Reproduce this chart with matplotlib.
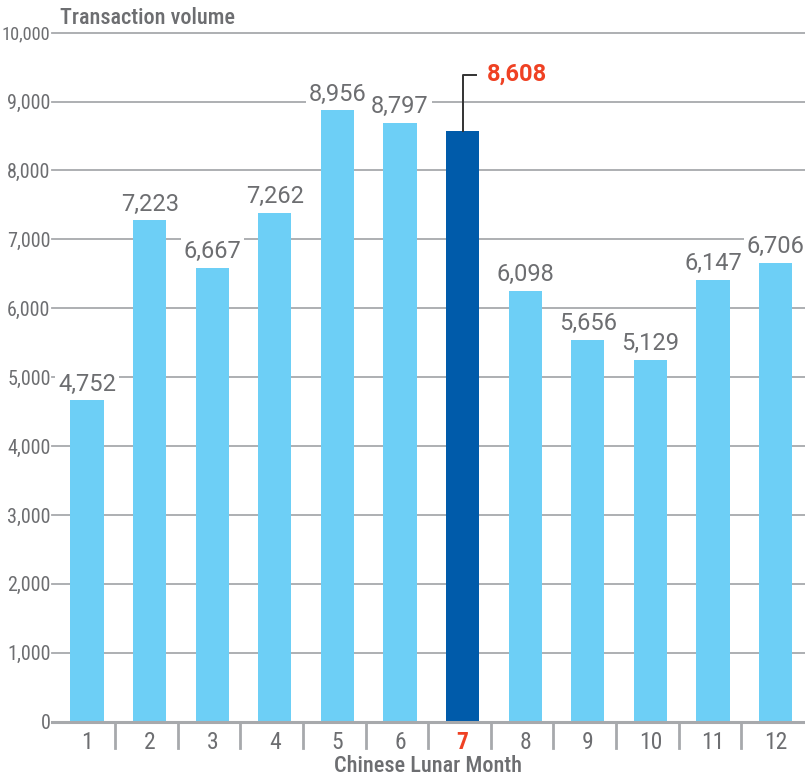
import matplotlib
matplotlib.use("Agg")
import matplotlib.pyplot as plt
from matplotlib.lines import Line2D
from matplotlib.transforms import IdentityTransform

# data
months = ["1", "2", "3", "4", "5", "6", "7", "8", "9", "10", "11", "12"]
bar_heights = [4669, 7282, 6589, 7388, 8878, 8694, 8578, 6256, 5544, 5254, 6415, 6662]
value_labels = [4752, 7223, 6667, 7262, 8956, 8797, 8608, 6098, 5656, 5129, 6147, 6706]
highlight = 6  # index of month 7
y_ticks = [0, 1000, 2000, 3000, 4000, 5000, 6000, 7000, 8000, 9000, 10000]

light_blue = "#6dcff6"
dark_blue = "#005baa"
red = "#ef4123"
gray_txt = "#6d6e71"
grid_col = "#a7a9ac"
narrow = ["Roboto Condensed", "DejaVu Sans"]
num_font = ["Roboto", "DejaVu Sans"]

fig = plt.figure(figsize=(8.05, 7.77), dpi=100)
ax = fig.add_axes([52 / 805, 55.3 / 777, 1 - 52 / 805, 689 / 777])

x = list(range(len(months)))
colors = [dark_blue if i == highlight else light_blue for i in x]
ax.bar(x, bar_heights, width=0.53, color=colors, zorder=2)

ax.set_xlim(-0.56, 11.47)
ax.set_ylim(0, 10000)

# gridlines
for t in y_ticks[1:]:
    ax.axhline(t, color=grid_col, lw=1.3, zorder=0, clip_on=False)
ax.axhline(0, color=grid_col, lw=2.2, zorder=3, clip_on=False)

for s in ax.spines.values():
    s.set_visible(False)

ax.set_yticks(y_ticks)
ax.set_yticklabels([f"{t:,}" for t in y_ticks], family=narrow, fontsize=14.5, color=gray_txt)
ax.tick_params(axis="y", length=0, pad=1)
ax.get_yticklabels()[-1].set_fontsize(13.2)  # widest label, keep it inside

ax.set_xticks(x)
ax.set_xticklabels(months, family=narrow, fontsize=17, color=gray_txt)
ax.tick_params(axis="x", length=0, pad=7)
lab7 = ax.get_xticklabels()[highlight]
lab7.set_color(red)
lab7.set_fontweight("bold")

# separators between months
for k in range(len(months) - 1):
    ax.plot([k + 0.45, k + 0.45], [-0.002, -0.038], color=grid_col, lw=2,
            transform=ax.get_xaxis_transform(), clip_on=False)

# value labels
for i, (h, v) in enumerate(zip(bar_heights, value_labels)):
    if i == highlight:
        continue
    ax.annotate(f"{v:,}", xy=(i, h), xytext=(0, 16), textcoords="offset pixels",
                ha="center", va="center", fontsize=17, color=gray_txt, family=num_font,
                bbox=dict(facecolor="white", edgecolor="none", pad=2), zorder=4)

# highlighted callout
h7 = bar_heights[highlight]
ax.annotate(f"{value_labels[highlight]:,}", xy=(highlight, h7), xytext=(24, 56),
            textcoords="offset pixels", ha="left", va="center", fontsize=17,
            color=red, fontweight="bold", family=num_font, zorder=4)
fig.canvas.draw()
px, py = ax.transData.transform((highlight, h7))
fig.add_artist(Line2D([px, px, px + 13], [py, py + 56, py + 56], color="#333333",
                      lw=1.4, transform=IdentityTransform()))

fig.text(60 / 805, 1 - 18 / 777, "Transaction volume", family=narrow, fontsize=16,
         fontweight="medium", color=gray_txt, ha="left", va="center")
fig.text(428 / 805, 1 - 766 / 777, "Chinese Lunar Month", family=narrow, fontsize=16,
         fontweight="medium", color=gray_txt, ha="center", va="center")

fig.savefig("out.png", dpi=100)
